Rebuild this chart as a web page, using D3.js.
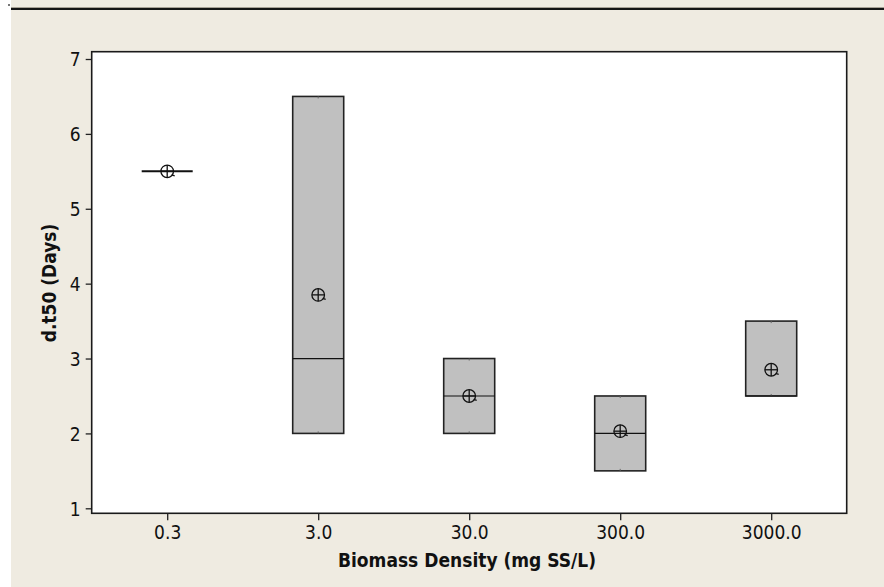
<!DOCTYPE html>
<html>
<head>
<meta charset="utf-8">
<script src="https://cdn.jsdelivr.net/npm/d3@7"></script>
<style>
  html, body { margin: 0; padding: 0; background: #fff; }
  svg { display: block; }
  text { font-family: "DejaVu Sans Condensed", "DejaVu Sans", sans-serif; font-stretch: condensed; fill: #111; }
</style>
</head>
<body>
<svg id="chart" width="884" height="587"></svg>
<script>
// Biomass density groups and their d.t50 summaries (days)
const categories = ["0.3", "3.0", "30.0", "300.0", "3000.0"];
const q1Values     = [5.5, 2.0, 2.0, 1.5, 2.5];
const medianValues = [5.5, 3.0, 2.5, 2.0, 2.5];
const q3Values     = [5.5, 6.5, 3.0, 2.5, 3.5];
const meanValues   = [5.5, 3.85, 2.5, 2.03, 2.85];
const yTicks = [1, 2, 3, 4, 5, 6, 7];

const data = categories.map((c, i) => ({
  cat: c, q1: q1Values[i], med: medianValues[i], q3: q3Values[i], mean: meanValues[i]
}));

const svg = d3.select("#chart");
const W = 884, H = 587;

// page background and header rule
svg.append("rect").attr("x", 11).attr("y", 0).attr("width", W - 11).attr("height", H).attr("fill", "#efebe1");
svg.append("rect").attr("x", 8).attr("y", 4).attr("width", 2).attr("height", 2).attr("fill", "#777");
svg.append("rect").attr("x", 11).attr("y", 7).attr("width", W - 11).attr("height", 1).attr("fill", "#a8a296");
svg.append("rect").attr("x", 11).attr("y", 8).attr("width", W - 11).attr("height", 2).attr("fill", "#151515");

const frame = { left: 91.7, right: 846.7, top: 51.7, bottom: 513.3 };

const x = d3.scalePoint().domain(categories).range([frame.left, frame.right]).padding(0.5);
const y = d3.scaleLinear().domain([1, 7]).range([508.3, 59]);

// plot area
svg.append("rect")
  .attr("x", frame.left).attr("y", frame.top)
  .attr("width", frame.right - frame.left).attr("height", frame.bottom - frame.top)
  .attr("fill", "#fff");

// axes
const yAxis = svg.append("g")
  .attr("transform", `translate(${frame.left},0)`)
  .call(d3.axisLeft(y).tickValues(yTicks).tickFormat(d3.format("d")).tickSize(6).tickPadding(5));
const xAxis = svg.append("g")
  .attr("transform", `translate(0,${frame.bottom})`)
  .call(d3.axisBottom(x).tickSize(7).tickPadding(5));
[yAxis, xAxis].forEach(g => {
  g.select(".domain").remove();
  g.selectAll(".tick line").attr("stroke", "#222").attr("stroke-width", 1.3);
  g.selectAll(".tick text").attr("font-size", 19).attr("fill", "#111")
    .style("font-family", '"DejaVu Sans Condensed", "DejaVu Sans", sans-serif');
});
yAxis.selectAll(".tick text").attr("dy", "0.36em");

const boxW = 51;
const groups = svg.append("g").selectAll("g").data(data).join("g")
  .attr("transform", d => `translate(${x(d.cat)},0)`);

// interquartile boxes
groups.filter(d => d.q3 > d.q1).append("rect")
  .attr("x", -boxW / 2).attr("width", boxW)
  .attr("y", d => y(d.q3)).attr("height", d => y(d.q1) - y(d.q3))
  .attr("fill", "#c0c0c0").attr("stroke", "#222").attr("stroke-width", 1.6);

// zero-length whisker stubs at the box ends
groups.filter(d => d.q3 > d.q1).append("line")
  .attr("x1", 0).attr("x2", 0)
  .attr("y1", d => y(d.q3)).attr("y2", d => y(d.q3) + 2)
  .attr("stroke", "#666").attr("stroke-width", 1);
groups.filter(d => d.q3 > d.q1).append("line")
  .attr("x1", 0).attr("x2", 0)
  .attr("y1", d => y(d.q1)).attr("y2", d => y(d.q1) - 2)
  .attr("stroke", "#666").attr("stroke-width", 1);

// median lines
groups.append("line")
  .attr("x1", -boxW / 2).attr("x2", boxW / 2)
  .attr("y1", d => y(d.med)).attr("y2", d => y(d.med))
  .attr("stroke", "#111")
  .attr("stroke-width", d => d.q3 > d.q1 ? 1.2 : 2);

// mean symbols: circle with cross
const mean = groups.append("g").attr("transform", d => `translate(0,${y(d.mean)})`)
  .attr("fill", "none").attr("stroke", "#111").attr("stroke-width", 1.3);
const r = 6.3;
mean.append("circle").attr("r", r);
mean.append("line").attr("x1", -r).attr("x2", r).attr("y1", 0).attr("y2", 0);
mean.append("line").attr("x1", 0).attr("x2", 0).attr("y1", -r).attr("y2", r);
mean.append("line").attr("x1", 4.5).attr("y1", 3.5).attr("x2", 7.5).attr("y2", 4.5);

// plot frame
svg.append("rect")
  .attr("x", frame.left).attr("y", frame.top)
  .attr("width", frame.right - frame.left).attr("height", frame.bottom - frame.top)
  .attr("fill", "none").attr("stroke", "#1a1a1a").attr("stroke-width", 1.6);

// axis titles
svg.append("text")
  .attr("x", 467).attr("y", 566.5)
  .attr("text-anchor", "middle").attr("font-size", 19).attr("font-weight", "bold")
  .text("Biomass Density (mg SS/L)");
svg.append("text")
  .attr("transform", "translate(56,283) rotate(-90)")
  .attr("text-anchor", "middle").attr("font-size", 19).attr("font-weight", "bold")
  .text("d.t50 (Days)");
</script>
</body>
</html>
